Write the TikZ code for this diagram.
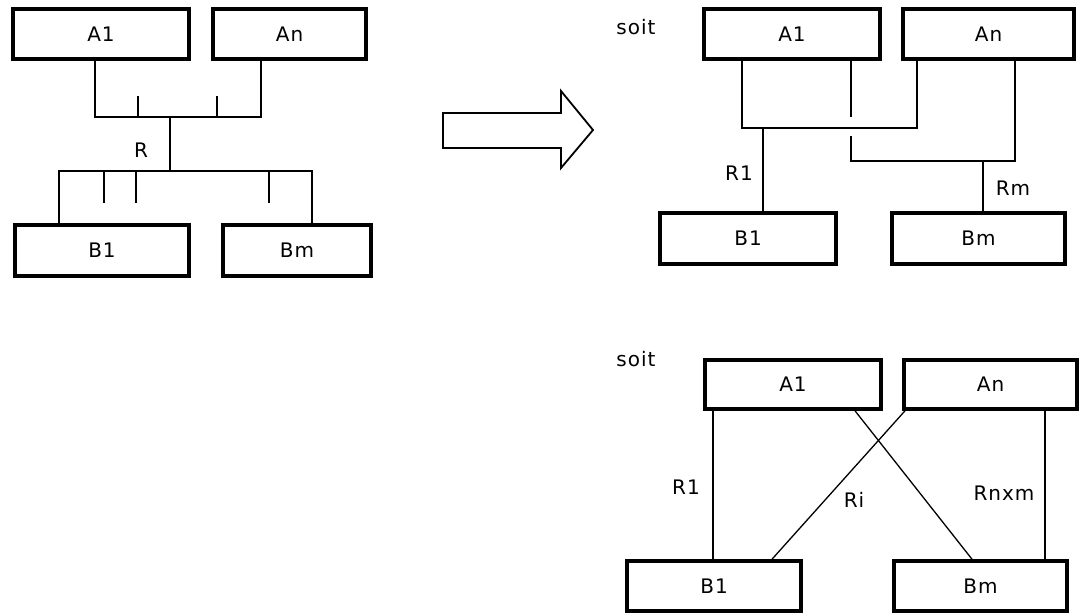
\documentclass[tikz,border=0pt]{standalone}
\usepackage{fontspec}
\setmainfont[LetterSpace=5]{DejaVu Sans}
\begin{document}
\begin{tikzpicture}[x=1pt,y=-1pt,
  ebox/.style={draw, line width=3.6pt, inner sep=0pt, minimum height=50pt, font=\fontsize{20}{23}\selectfont},
  conn/.style={line width=1.3pt},
  lbl/.style={font=\fontsize{20}{23}\selectfont, inner sep=0pt},
  bigarrow/.style={line width=1.8pt, line join=miter}]
\useasboundingbox (0,0) rectangle (1084,613);
% ---------- left ----------
\node[ebox, minimum width=176pt] (A1L) at (101,34) {A1};
\node[ebox, minimum width=153pt] (AnL) at (289.5,34) {An};
\node[ebox, minimum width=174pt, minimum height=51pt] (B1L) at (102,250.5) {B1};
\node[ebox, minimum width=148pt, minimum height=51pt] (BmL) at (297,250.5) {Bm};
\coordinate (J1) at (170,117);
\coordinate (J2) at (170,171);
\draw[conn] (A1L.south -| 95,0) |- (J1) -| (AnL.south -| 261,0);
\draw[conn] (J1) -- (J2);
\draw[conn] (B1L.north -| 59,0) |- (J2) -| (BmL.north -| 312,0);
\draw[conn] (138,96) -- (138,117);
\draw[conn] (217,96) -- (217,117);
\draw[conn] (104,171) -- (104,203);
\draw[conn] (136,171) -- (136,203);
\draw[conn] (269,171) -- (269,203);
\node[lbl] (R) at (141,150) {R};
% ---------- arrow ----------
\draw[bigarrow] (443,113) -- (561,113) -- (561,91) -- (593,130) -- (561,168) -- (561,148) -- (443,148) -- cycle;
% ---------- top right ----------
\node[lbl] (soit1) at (636,27) {soit};
\node[ebox, minimum width=176pt] (A1T) at (792,34) {A1};
\node[ebox, minimum width=171pt] (AnT) at (988.5,34) {An};
\node[ebox, minimum width=176pt, minimum height=51pt] (B1T) at (748,238.5) {B1};
\node[ebox, minimum width=173pt, minimum height=51pt] (BmT) at (978.5,238.5) {Bm};
\coordinate (J3) at (763,128);
\coordinate (J4) at (983,161);
\coordinate (G1) at (851,117);
\coordinate (G2) at (851,136);
\draw[conn] (A1T.south -| 742,0) |- (J3) -| (AnT.south -| 917,0);
\draw[conn] (J3) -- (B1T.north -| J3);
\draw[conn] (A1T.south -| G1) -- (G1);
\draw[conn] (G2) |- (J4) -| (AnT.south -| 1015,0);
\draw[conn] (J4) -- (BmT.north -| J4);
\node[lbl] (R1T) at (739,173) {R1};
\node[lbl] (RmT) at (1013,188) {Rm};
% ---------- bottom right ----------
\node[lbl] (soit2) at (636,359) {soit};
\node[ebox, minimum width=176pt, minimum height=49pt] (A1B) at (793,384.5) {A1};
\node[ebox, minimum width=173pt, minimum height=49pt] (AnB) at (990.5,384.5) {An};
\node[ebox, minimum width=174pt] (B1B) at (714,586) {B1};
\node[ebox, minimum width=173pt] (BmB) at (980.5,586) {Bm};
\draw[conn] (A1B.south -| 713,0) -- (B1B.north -| 713,0);
\draw[conn] (A1B.south -| 855,0) -- (BmB.north -| 972,0);
\draw[conn] (AnB.south -| 905,0) -- (B1B.north -| 772,0);
\draw[conn] (AnB.south -| 1045,0) -- (BmB.north -| 1045,0);
\node[lbl] (R1B) at (686,487) {R1};
\node[lbl] (RiB) at (854,500) {Ri};
\node[lbl] (RnxmB) at (1004,493) {Rnxm};
\end{tikzpicture}
\end{document}
